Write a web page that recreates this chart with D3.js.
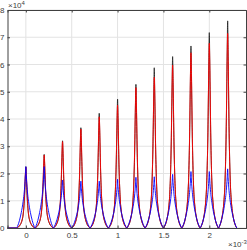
<!DOCTYPE html>
<html><head><meta charset="utf-8">
<script src="https://cdn.jsdelivr.net/npm/d3@7"></script>
<style>body{margin:0;background:#fff}svg{display:block}text{font-family:"Liberation Sans",Arial,sans-serif}</style>
</head><body>
<script>
// Peak centres (s) and peak heights per series
const peakCenters = [0,0.2e-3,0.4e-3,0.6e-3,0.8e-3,1.0e-3,1.2e-3,1.4e-3,1.6e-3,1.8e-3,2.0e-3,2.2e-3];
const blackPeaks = [22500,27000,32000,36800,42100,47300,52700,58800,62900,66800,71700,76000];
const redPeaks   = [22300,26800,31700,36300,40800,45100,51500,55300,59800,64300,67800,71400];
const bluePeaks  = [22500,22500,17600,17200,17200,17900,18600,18800,19700,20700,20700,21700];
// Peak profile: offsets from the peak centre (s) and fraction of the peak height
const profileOffsets = [0,0.5e-5,1e-5,1.5e-5,2e-5,3e-5,4e-5,5e-5,6e-5,7e-5,8e-5,9e-5,10e-5];
const blackProfile = [1,.85,.66,.49,.37,.21,.13,.085,.055,.033,.018,.007,0];
const redProfile   = [1,.9,.72,.53,.39,.22,.14,.09,.06,.035,.02,.008,0];
const blueProfile  = [1,.85,.73,.63,.55,.43,.33,.25,.18,.12,.07,.03,0];
const xTicks = [0,0.5e-3,1e-3,1.5e-3,2e-3];
const xTickLabels = ["0","0.5","1","1.5","2"];
const yTicks = [0,1e4,2e4,3e4,4e4,5e4,6e4,7e4,8e4];
const yTickLabels = ["0","1","2","3","4","5","6","7","8"];

const W=247,H=250;
const L=7.5,R=246,T=10,B=228;
const x=d3.scaleLinear().domain([-0.2e-3,2.4e-3]).range([L,R]);
const y=d3.scaleLinear().domain([0,8e4]).range([B,T]);
const svg=d3.select("body").append("svg").attr("width",W).attr("height",H);

// grid
svg.append("g").selectAll("line").data(xTicks).join("line")
  .attr("x1",d=>x(d)).attr("x2",d=>x(d)).attr("y1",T).attr("y2",B)
  .attr("stroke","#e3e3e3").attr("stroke-width",1);
svg.append("g").selectAll("line").data(yTicks).join("line")
  .attr("y1",d=>y(d)).attr("y2",d=>y(d)).attr("x1",L).attr("x2",R)
  .attr("stroke","#e3e3e3").attr("stroke-width",1);

function buildSeries(peaks, profile){
  const pts=[[-0.2e-3,0]];
  peakCenters.forEach((c,i)=>{
    for(let k=profileOffsets.length-1;k>0;k--) pts.push([c-profileOffsets[k],peaks[i]*profile[k]]);
    pts.push([c,peaks[i]]);
    for(let k=1;k<profileOffsets.length;k++) pts.push([c+profileOffsets[k],peaks[i]*profile[k]]);
  });
  return pts;
}
const line=d3.line().x(d=>x(d[0])).y(d=>y(d[1])).curve(d3.curveMonotoneX);
const series=[[blackPeaks,blackProfile,"#222222"],[redPeaks,redProfile,"#ff0000"],[bluePeaks,blueProfile,"#0000ff"]];
const plot=svg.append("g");
series.forEach(([p,pr,c])=>{
  plot.append("path").datum(buildSeries(p,pr)).attr("d",line)
    .attr("fill","none").attr("stroke",c).attr("stroke-width",0.9).attr("stroke-linejoin","round");
});

// axes box
const ax="#404040";
const gx=svg.append("g").attr("transform",`translate(0,${B})`)
  .call(d3.axisBottom(x).tickValues(xTicks).tickFormat((d,i)=>xTickLabels[i]).tickSize(-2.5).tickPadding(4));
const gxt=svg.append("g").attr("transform",`translate(0,${T})`)
  .call(d3.axisTop(x).tickValues(xTicks).tickFormat("").tickSize(-2.5));
const gy=svg.append("g").attr("transform",`translate(${L},0)`)
  .call(d3.axisLeft(y).tickValues(yTicks).tickFormat((d,i)=>yTickLabels[i]).tickSize(-2.5).tickPadding(3));
const gyr=svg.append("g").attr("transform",`translate(${R},0)`)
  .call(d3.axisRight(y).tickValues(yTicks).tickFormat("").tickSize(-2.5));
[gx,gxt,gy,gyr].forEach(g=>{
  g.select(".domain").attr("stroke",ax).attr("stroke-width",1);
  g.selectAll(".tick line").attr("stroke",ax);
  g.selectAll("text").attr("fill","#404040").style("font-size","8px").style("font-family","Liberation Sans, Arial, sans-serif");
});

// exponent labels
const e1=svg.append("text").attr("x",8).attr("y",8).attr("fill","#404040").style("font-size","8px");
e1.append("tspan").text("×10");
e1.append("tspan").attr("dy",-3).style("font-size","6px").text("4");
const e2=svg.append("text").attr("x",228).attr("y",247).attr("fill","#404040").style("font-size","8px");
e2.append("tspan").text("×10");
e2.append("tspan").attr("dy",-3).style("font-size","6px").text("-3");
</script>
</body></html>
